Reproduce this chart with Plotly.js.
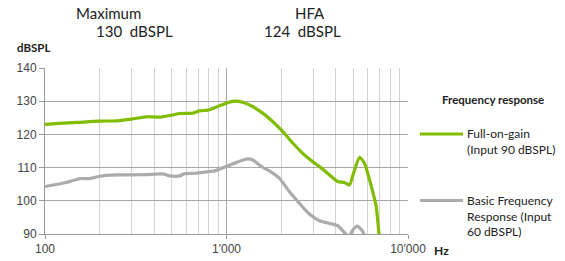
<!DOCTYPE html>
<html>
<head>
<meta charset="utf-8">
<script src="https://cdn.plot.ly/plotly-3.0.1.min.js"></script>
<style>html,body{margin:0;padding:0;background:#fff;}#chart{width:565px;height:261px;}</style>
</head>
<body>
<div id="chart"></div>
<script>
// Full-on-gain (Input 90 dBSPL)
var freqFull = [100,120,150,200,250,300,360,430,500,552,650,710,790,875,1000,1102,1225,1393,1582,1795,2038,2316,2630,2985,3250,3690,4100,4470,4760,5010,5410,5760,6140,6490,6680,6920,7000];
var gainFull = [123.0,123.3,123.6,124.0,124.1,124.6,125.3,125.2,125.8,126.3,126.4,127.1,127.3,128.2,129.4,130.0,129.7,128.4,126.4,123.9,120.9,117.4,114.3,111.8,110.3,107.8,105.8,105.5,104.8,108.3,113.1,111.3,106.3,101.3,98.3,90.0,87.0];
// Basic Frequency Response (Input 60 dBSPL)
var freqBasic = [100,131,156,177,200,248,306,362,447,486,552,588,680,770,860,1000,1127,1306,1393,1582,1722,1954,2218,2518,2862,3250,3690,4100,4335,4600,4750,4965,5250,5520,5760,5900];
var gainBasic = [104.3,105.5,106.7,106.7,107.4,107.8,107.8,107.9,108.1,107.5,107.5,108.2,108.3,108.7,109.0,110.4,111.5,112.6,112.3,110.1,109.0,106.8,102.8,99.3,96.0,94.0,93.2,92.5,91.2,89.7,89.3,91.2,92.4,91.4,89.7,88.0];

var xMajor = [100,1000,10000];
var xMajorText = ["100","1'000","10'000"];
var xMinor = [200,300,400,500,600,700,800,900,2000,3000,4000,5000,6000,7000,8000,9000];
var yTicks = [90,100,110,120,130,140];
var yGrid = [100,110,120,130];

var seriesNames = ["Full-on-gain<br>(Input 90 dBSPL)", "Basic Frequency<br>Response (Input<br>60 dBSPL)"];
var green = '#80bd00', gray = '#ababab';

var traces = [
  {x: freqFull, y: gainFull, type: 'scatter', mode: 'lines', line: {color: green, width: 3.2, shape: 'spline', smoothing: 0.6}, hoverinfo: 'skip', showlegend: false},
  {x: freqBasic, y: gainBasic, type: 'scatter', mode: 'lines', line: {color: gray, width: 3.2, shape: 'spline', smoothing: 0.6}, hoverinfo: 'skip', showlegend: false}
];

function px(x){return (x-45)/363;}
function py(y){return (234-y)/166;}

var titleFont = {family: 'Lato, "Open Sans", sans-serif', size: 15, color: '#222'};
var smallFont = {family: 'Lato, "Open Sans", sans-serif', size: 12, color: '#222'};

var layout = {
  width: 565, height: 261,
  margin: {l: 45, r: 157, t: 68, b: 27, pad: 0},
  paper_bgcolor: '#fff', plot_bgcolor: '#fff',
  showlegend: false,
  font: {family: '"Liberation Sans", Arial, sans-serif', size: 12, color: '#333'},
  xaxis: {
    type: 'log', range: [2, 4], tickvals: xMajor, ticktext: xMajorText,
    showgrid: true, gridcolor: '#a8a8a8', gridwidth: 1,
    showline: true, linecolor: '#9a9a9a', linewidth: 1,
    ticks: 'outside', ticklen: 4, tickcolor: '#9a9a9a',
    tickfont: {family: '"Liberation Sans", Arial, sans-serif', size: 12, color: '#444'},
    minor: {tickvals: xMinor, showgrid: true, gridcolor: '#d2d2d2', gridwidth: 1, ticks: ''},
    zeroline: false, fixedrange: true
  },
  yaxis: {
    range: [90, 140], tickvals: yTicks,
    showgrid: false,
    showline: true, linecolor: '#9a9a9a', linewidth: 1,
    ticks: 'outside', ticklen: 5, tickcolor: '#9a9a9a',
    tickfont: {family: '"Liberation Sans", Arial, sans-serif', size: 12, color: '#444'},
    minor: {tickvals: yGrid, showgrid: true, gridcolor: '#a8a8a8', gridwidth: 1, ticks: ''},
    zeroline: false, fixedrange: true
  },
  shapes: [
    {type: 'line', xref: 'paper', yref: 'paper', x0: px(420), x1: px(463), y0: py(134), y1: py(134), line: {color: green, width: 3}},
    {type: 'line', xref: 'paper', yref: 'paper', x0: px(420), x1: px(463), y0: py(200.5), y1: py(200.5), line: {color: gray, width: 3}}
  ],
  annotations: [
    {text: 'Maximum', xref: 'paper', yref: 'paper', x: px(108), y: py(13), xanchor: 'center', yanchor: 'middle', showarrow: false, font: titleFont},
    {text: '130  dBSPL', xref: 'paper', yref: 'paper', x: px(134), y: py(31), xanchor: 'center', yanchor: 'middle', showarrow: false, font: titleFont},
    {text: 'HFA', xref: 'paper', yref: 'paper', x: px(310), y: py(13), xanchor: 'center', yanchor: 'middle', showarrow: false, font: titleFont},
    {text: '124  dBSPL', xref: 'paper', yref: 'paper', x: px(302), y: py(31), xanchor: 'center', yanchor: 'middle', showarrow: false, font: titleFont},
    {text: '<b>dBSPL</b>', xref: 'paper', yref: 'paper', x: px(15), y: py(47), xanchor: 'left', yanchor: 'middle', showarrow: false, font: {family: 'Lato, sans-serif', size: 11.5, color: '#222'}},
    {text: '<b>Hz</b>', xref: 'paper', yref: 'paper', x: px(432), y: py(250), xanchor: 'left', yanchor: 'middle', showarrow: false, font: {family: 'Lato, sans-serif', size: 12, color: '#222'}},
    {text: '<b>Frequency response</b>', xref: 'paper', yref: 'paper', x: px(493), y: py(99), xanchor: 'center', yanchor: 'middle', showarrow: false, font: {family: 'Lato, sans-serif', size: 11.5, color: '#222'}},
    {text: seriesNames[0], xref: 'paper', yref: 'paper', x: px(465), y: py(141), xanchor: 'left', yanchor: 'middle', align: 'left', showarrow: false, font: smallFont},
    {text: seriesNames[1], xref: 'paper', yref: 'paper', x: px(465), y: py(215.5), xanchor: 'left', yanchor: 'middle', align: 'left', showarrow: false, font: smallFont}
  ]
};

Plotly.newPlot('chart', traces, layout, {staticPlot: true, displayModeBar: false});
</script>
</body>
</html>
